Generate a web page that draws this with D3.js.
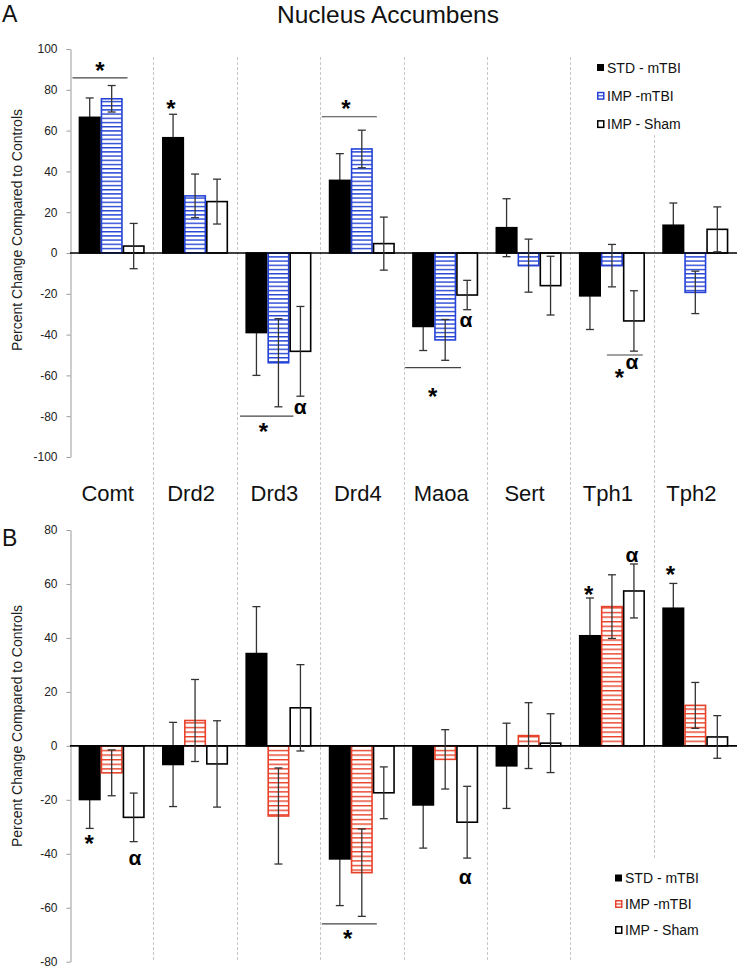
<!DOCTYPE html>
<html><head><meta charset="utf-8">
<script src="https://cdn.jsdelivr.net/npm/d3@7"></script>
<style>body{margin:0;background:#fff}svg{display:block;font-family:"Liberation Sans",Arial,Helvetica,sans-serif}</style>
</head><body><svg id="c" width="741" height="978"></svg>
<script>
const categories = ["Comt","Drd2","Drd3","Drd4","Maoa","Sert","Tph1","Tph2"];
const seriesNames = ["STD - mTBI","IMP -mTBI","IMP - Sham"];
// Panel A (Nucleus Accumbens)
const aStd   = [66.5, 56.5, -39.0, 35.6, -36.0, 12.4, -21.0, 13.6];
const aImpT  = [75.6, 28.0, -53.8, 51.0, -42.6, -6.2, -6.2, -19.3];
const aSham  = [3.4, 25.2, -48.2, 4.6, -20.6, -16.0, -33.3, 11.6];
const aStdErr  = [9.5, 11.5, 21.0, 13.1, 11.8, 14.2, 16.5, 10.9];
const aImpTErr = [6.5, 10.7, 21.6, 9.2, 10.0, 13.0, 10.4, 10.4];
const aShamErr = [11.1, 11.0, 22.0, 13.0, 7.2, 14.4, 14.8, 11.0];
// Panel B
const bStd   = [-19.9, -6.9, 34.2, -41.9, -21.9, -7.4, 40.8, 51.0];
const bImpT  = [-10.0, 9.4, -26.0, -47.0, -5.0, 3.8, 51.6, 15.0];
const bSham  = [-26.5, -6.7, 14.1, -17.4, -28.3, 1.0, 57.4, 3.3];
const bStdErr  = [10.7, 15.6, 17.4, 17.3, 16.0, 15.8, 14.0, 9.2];
const bImpTErr = [8.5, 15.2, 17.8, 16.2, 11.0, 12.2, 11.8, 8.5];
const bShamErr = [9.0, 16.0, 16.0, 9.6, 13.3, 10.9, 10.0, 7.9];
const aTicks = [-100,-80,-60,-40,-20,0,20,40,60,80,100];
const bTicks = [-80,-60,-40,-20,0,20,40,60,80];
// significance annotations: category, kind, value (data units), band fraction(s)
const aMarks = [
  {cat:"Comt", kind:"line", v:85.8, f0:0.03, f1:0.69},
  {cat:"Comt", kind:"*", v:91.7, f:0.36},
  {cat:"Drd2", kind:"*", v:73, f:0.21},
  {cat:"Drd3", kind:"line", v:-80, f0:0.04, f1:0.68},
  {cat:"Drd3", kind:"*", v:-85.3, f:0.32},
  {cat:"Drd3", kind:"α", v:-76, f:0.76},
  {cat:"Drd4", kind:"line", v:66.8, f0:0.02, f1:0.68},
  {cat:"Drd4", kind:"*", v:73, f:0.31},
  {cat:"Maoa", kind:"α", v:-33.3, f:0.75},
  {cat:"Maoa", kind:"line", v:-56.2, f0:0.02, f1:0.69},
  {cat:"Maoa", kind:"*", v:-68, f:0.35},
  {cat:"Tph1", kind:"line", v:-50, f0:0.44, f1:0.87},
  {cat:"Tph1", kind:"*", v:-59, f:0.59},
  {cat:"Tph1", kind:"α", v:-54, f:0.74}
];
const bMarks = [
  {cat:"Comt", kind:"*", v:-34.4, f:0.23},
  {cat:"Comt", kind:"α", v:-41.8, f:0.78},
  {cat:"Drd4", kind:"line", v:-66, f0:0.02, f1:0.68},
  {cat:"Drd4", kind:"*", v:-69.6, f:0.33},
  {cat:"Maoa", kind:"α", v:-49, f:0.74},
  {cat:"Tph1", kind:"*", v:57.6, f:0.22},
  {cat:"Tph1", kind:"α", v:70.2, f:0.74},
  {cat:"Tph2", kind:"*", v:65, f:0.20}
];

const svg = d3.select("#c");
const BLUE = "#2443d6", RED = "#e8432a";
const defs = svg.append("defs");
function hatch(id, color, h){
  const p = defs.append("pattern").attr("id", id).attr("patternUnits","userSpaceOnUse")
    .attr("width", 6).attr("height", h);
  p.append("rect").attr("width",6).attr("height",h).attr("fill","#fff");
  p.append("rect").attr("y", 0).attr("width",6).attr("height",1.4).attr("fill",color);
}
hatch("hb", BLUE, 4.2);
hatch("hr", RED, 4.6);

const x = d3.scaleBand().domain(categories).range([70, 737]).padding(0);
const bw = x.bandwidth();
const xi = d3.scaleBand().domain([0,1,2]).range([8.7, bw - 8.7]).padding(0);

// separators
categories.slice(1).forEach(c => {
  const sx = Math.round(x(c)) + 0.5;
  const last = c === "Tph2";
  svg.append("line").attr("x1", sx).attr("x2", sx)
    .attr("y1", last ? 135 : 57).attr("y2", last ? 860 : 962)
    .attr("stroke", "#c8c8c8").attr("stroke-width", 1).attr("stroke-dasharray", "3,2");
});

function errorBar(g, y, cx, v, e){
  const t = y(v + e), b = y(v - e);
  const eg = g.append("g").attr("stroke","#333").attr("stroke-width",1.3);
  eg.append("line").attr("x1",cx).attr("x2",cx).attr("y1",t).attr("y2",b);
  eg.append("line").attr("x1",cx-4).attr("x2",cx+4).attr("y1",t).attr("y2",t);
  eg.append("line").attr("x1",cx-4).attr("x2",cx+4).attr("y1",b).attr("y2",b);
}

function panel(yRange, domain, ticks, vals, errs, hatchId, color, marks, titleY){
  const y = d3.scaleLinear().domain(domain).range(yRange);
  const g = svg.append("g");
  const ax = g.append("g").attr("transform","translate(70.5,0)")
    .call(d3.axisLeft(y).tickValues(ticks).tickFormat(d => String(d)).tickSize(4).tickPadding(9).tickSizeOuter(0));
  ax.select(".domain").attr("stroke","#9a9a9a");
  ax.selectAll(".tick line").attr("stroke","#9a9a9a");
  ax.selectAll(".tick text").attr("font-size", 12).attr("fill","#222")
    .attr("font-family",'"Liberation Sans",Arial,sans-serif');
  g.append("text").attr("transform", `translate(22,${titleY}) rotate(-90)`)
    .attr("text-anchor","middle").attr("font-size",14).attr("fill","#222")
    .text("Percent Change Compared to Controls");
  const fills = ["#000", `url(#${hatchId})`, "#fff"];
  const strokes = ["#000", color, "#000"];
  const cxOf = (i, s) => x(categories[i]) + xi(s) + xi.bandwidth()/2;
  // error bars of the solid black series lie beneath their bars
  vals[0].forEach((v, i) => errorBar(g, y, cxOf(i, 0), v, errs[0][i]));
  vals.forEach((arr, s) => {
    arr.forEach((v, i) => {
      const bx = x(categories[i]) + xi(s);
      const y0 = y(0), y1 = y(v);
      g.append("rect").attr("x", bx + 0.75).attr("width", xi.bandwidth() - 1.5)
        .attr("y", Math.min(y0, y1)).attr("height", Math.abs(y1 - y0))
        .attr("fill", fills[s]).attr("stroke", strokes[s]).attr("stroke-width", 1.6);
    });
  });
  g.append("line").attr("x1", 70).attr("x2", 737).attr("y1", y(0)).attr("y2", y(0))
    .attr("stroke","#000").attr("stroke-width",1.6);
  [1, 2].forEach(s => vals[s].forEach((v, i) => errorBar(g, y, cxOf(i, s), v, errs[s][i])));
  marks.forEach(m => {
    const bx = x(m.cat);
    if (m.kind === "line") {
      g.append("line").attr("x1", bx + m.f0*bw).attr("x2", bx + m.f1*bw)
        .attr("y1", y(m.v)).attr("y2", y(m.v)).attr("stroke","#444").attr("stroke-width",1.2);
    } else if (m.kind === "*") {
      g.append("text").attr("x", bx + m.f*bw).attr("y", y(m.v) + 13)
        .attr("text-anchor","middle").attr("font-size",24).attr("font-weight","bold").text("*");
    } else {
      g.append("text").attr("x", bx + m.f*bw).attr("y", y(m.v) + 6)
        .attr("text-anchor","middle").attr("font-size",21).attr("font-weight","bold").text(m.kind);
    }
  });
  return y;
}

panel([457, 49], [-100, 100], aTicks, [aStd, aImpT, aSham], [aStdErr, aImpTErr, aShamErr], "hb", BLUE, aMarks, 230);
panel([961.7, 530], [-80, 80], bTicks, [bStd, bImpT, bSham], [bStdErr, bImpTErr, bShamErr], "hr", RED, bMarks, 726);

categories.forEach(c => {
  svg.append("text").attr("x", x(c) + bw/2 - 4).attr("y", 501)
    .attr("text-anchor","middle").attr("font-size",22).attr("fill","#111").text(c);
});

svg.append("text").attr("x", 388).attr("y", 23).attr("text-anchor","middle")
  .attr("font-size",24.5).attr("fill","#111").text("Nucleus Accumbens");
svg.append("text").attr("x", 2).attr("y", 22).attr("font-size",23).attr("fill","#111").text("A");
svg.append("text").attr("x", 2).attr("y", 546).attr("font-size",23).attr("fill","#111").text("B");

function legend(x0, y0, dy, color){
  seriesNames.forEach((n, i) => {
    const cy = y0 + i*dy;
    const g = svg.append("g");
    if (i === 0) {
      g.append("rect").attr("x", x0).attr("y", cy-3.5).attr("width",7).attr("height",7).attr("fill","#000");
    } else if (i === 1) {
      g.append("rect").attr("x", x0+0.75).attr("y", cy-3.25).attr("width",6).attr("height",6.5)
        .attr("fill","#fff").attr("stroke",color).attr("stroke-width",1.5);
      g.append("line").attr("x1", x0+1).attr("x2", x0+6.5).attr("y1", cy).attr("y2", cy)
        .attr("stroke", color).attr("stroke-width",1.2);
    } else {
      g.append("rect").attr("x", x0+0.75).attr("y", cy-3.25).attr("width",6).attr("height",6.5)
        .attr("fill","#fff").attr("stroke","#000").attr("stroke-width",1.5);
    }
    g.append("text").attr("x", x0 + 10).attr("y", cy + 5).attr("font-size",14).attr("fill","#111").text(n);
  });
}
legend(597, 67.5, 28.3, BLUE);
legend(615, 878, 26, RED);
</script></body></html>
